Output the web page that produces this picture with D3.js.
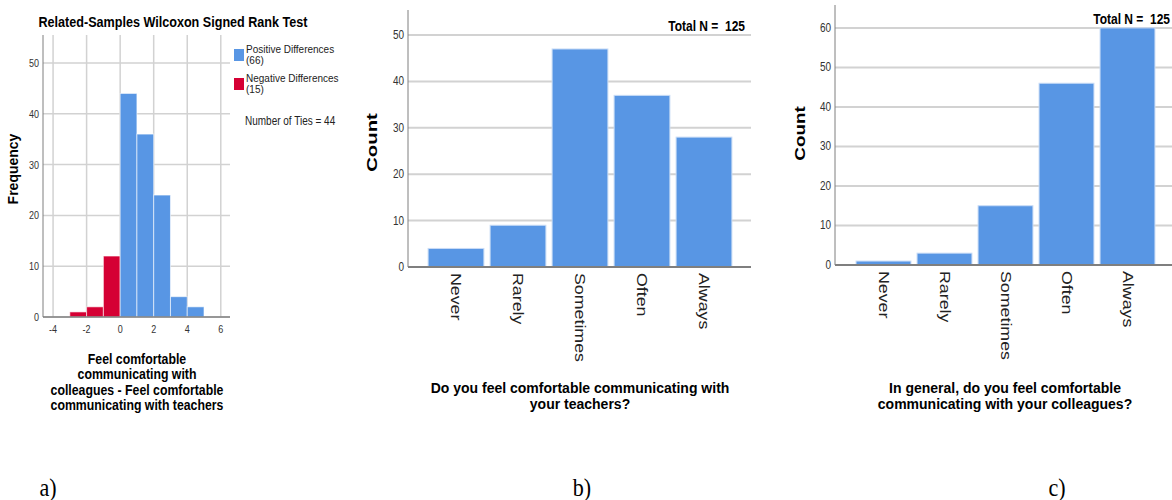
<!DOCTYPE html>
<html>
<head>
<meta charset="utf-8">
<script src="https://cdn.jsdelivr.net/npm/d3@7"></script>
<style>
  body { margin: 0; background: #fff; }
  svg { display: block; font-family: "Liberation Sans", Arial, sans-serif; }
  text { white-space: pre; }
</style>
</head>
<body>
<svg id="chart" width="1172" height="500"></svg>
<script>
// histogram of the differences (bin start, count)
var diffBins = [-3, -2, -1, 0, 1, 2, 3, 4];
var diffCounts = [1, 2, 12, 44, 36, 24, 4, 2];
var diffTicks = [-4, -2, 0, 2, 4, 6];
var freqTicks = [0, 10, 20, 30, 40, 50];

var categories = ["Never", "Rarely", "Sometimes", "Often", "Always"];
var teacherCounts = [4, 9, 47, 37, 28];
var colleagueCounts = [1, 3, 15, 46, 60];
var teacherTicks = [0, 10, 20, 30, 40, 50];
var colleagueTicks = [0, 10, 20, 30, 40, 50, 60];

var blue = "#5896e4", red = "#d50034";
var gridColor = "#d2d2d2", axisColor = "#7f7f7f";

var svg = d3.select("#chart");

// text helper, sx/sy stretch the glyphs like the original export
function txt(g, s, x, y, o) {
    o = o || {};
    var t = g.append("text")
        .attr("transform", "translate(" + x + "," + y + ")" + (o.rot ? " rotate(" + o.rot + ")" : "") +
            " scale(" + (o.sx || 1) + "," + (o.sy || 1) + ")")
        .attr("font-size", (o.size || 12) + "px")
        .attr("font-weight", o.bold ? "bold" : "normal")
        .attr("text-anchor", o.anchor || "middle")
        .attr("fill", o.fill || "#000")
        .text(s);
    return t;
}

function lines(g, arr, x, y0, step, o) {
    arr.forEach(function (s, i) { txt(g, s, x, y0 + i * step, o); });
}

// ---------- a) Wilcoxon histogram ----------
var ga = svg.append("g");
var xA = d3.scaleLinear().domain([-4.6, 6.55]).range([43, 230]);
var yA = d3.scaleLinear().domain([0, 55.5]).range([317, 35]);

ga.selectAll(".hg").data(freqTicks).enter().append("line")
    .attr("x1", 43).attr("x2", 230)
    .attr("y1", function (d) { return yA(d); }).attr("y2", function (d) { return yA(d); })
    .attr("stroke", gridColor).attr("stroke-width", 1.5);
ga.selectAll(".vg").data(diffTicks).enter().append("line")
    .attr("x1", function (d) { return xA(d); }).attr("x2", function (d) { return xA(d); })
    .attr("y1", 35).attr("y2", 317)
    .attr("stroke", gridColor).attr("stroke-width", 1.5);

ga.selectAll("rect").data(diffBins).enter().append("rect")
    .attr("x", function (d) { return xA(d); })
    .attr("width", function (d) { return xA(d + 1) - xA(d); })
    .attr("y", function (d, i) { return yA(diffCounts[i]); })
    .attr("height", function (d, i) { return yA(0) - yA(diffCounts[i]); })
    .attr("fill", function (d) { return d < 0 ? red : blue; })
    .attr("stroke", "#fff").attr("stroke-opacity", 0.6).attr("stroke-width", 1);

ga.append("line").attr("x1", 43).attr("x2", 43).attr("y1", 35).attr("y2", 317)
    .attr("stroke", axisColor);
ga.append("line").attr("x1", 43).attr("x2", 230).attr("y1", 317).attr("y2", 317)
    .attr("stroke", axisColor).attr("stroke-width", 1.5);

freqTicks.forEach(function (d) {
    txt(ga, d, 39, yA(d) + 4, { size: 9, anchor: "end", sy: 1.3, fill: "#333" });
});
diffTicks.forEach(function (d) {
    txt(ga, d, xA(d), 333, { size: 9, sy: 1.3, fill: "#333" });
});

txt(ga, "Related-Samples Wilcoxon Signed Rank Test", 173, 27, { size: 12.6, bold: true, sy: 1.1 });
txt(ga, "Frequency", 18, 169, { size: 14, bold: true, rot: -90 });
lines(ga, ["Feel comfortable", "communicating with", "colleagues - Feel comfortable", "communicating with teachers"],
    137, 364, 15.4, { size: 12.3, bold: true, sy: 1.15 });

// legend
var legend = [{ c: blue, l: ["Positive Differences", "(66)"], y: 49 }, { c: red, l: ["Negative Differences", "(15)"], y: 78 }];
legend.forEach(function (d) {
    ga.append("rect").attr("x", 234).attr("y", d.y).attr("width", 10).attr("height", 12).attr("fill", d.c);
    lines(ga, d.l, 246, d.y + 4, 11, { size: 10, anchor: "start", sy: 1.12, fill: "#222" });
});
txt(ga, "Number of Ties = 44", 245, 125, { size: 10, anchor: "start", sy: 1.2, fill: "#222" });

// ---------- bar panels ----------
function barPanel(opt) {
    var g = svg.append("g");
    var x = d3.scaleBand().domain(categories).range(opt.xr).paddingInner(0.1).paddingOuter(0.05);
    var y = d3.scaleLinear().domain([0, opt.ymax]).range([opt.y0, opt.ytop]);

    g.selectAll(".grid").data(opt.ticks.slice(1)).enter().append("line")
        .attr("x1", opt.left).attr("x2", opt.right)
        .attr("y1", function (d) { return y(d); }).attr("y2", function (d) { return y(d); })
        .attr("stroke", gridColor).attr("stroke-width", 2);

    g.selectAll("rect").data(opt.values).enter().append("rect")
        .attr("x", function (d, i) { return x(categories[i]); })
        .attr("width", x.bandwidth())
        .attr("y", function (d) { return y(d); })
        .attr("height", function (d) { return y(0) - y(d); })
        .attr("fill", blue)
        .attr("stroke", "#c9dcf6").attr("stroke-width", 1);

    g.append("line").attr("x1", opt.left).attr("x2", opt.left).attr("y1", opt.ytop).attr("y2", opt.y0)
        .attr("stroke", axisColor);
    g.append("line").attr("x1", opt.left).attr("x2", opt.right).attr("y1", opt.y0).attr("y2", opt.y0)
        .attr("stroke", axisColor).attr("stroke-width", 2);

    opt.ticks.forEach(function (d) {
        txt(g, d, opt.left - 4, y(d) + 4, { size: 10, anchor: "end", sy: 1.3, fill: "#333" });
    });
    categories.forEach(function (c) {
        txt(g, c, x(c) + x.bandwidth() / 2 - 5, opt.y0 + 6, { size: 14, anchor: "start", rot: 90, sx: 1.27, fill: "#222" });
    });

    txt(g, "Count", opt.countX, opt.countY, { size: 14.5, bold: true, rot: -90, sx: opt.countSx });
    txt(g, "Total N =  125", opt.totalX, opt.totalY, { size: 12, bold: true, anchor: "end", sy: 1.25 });
    lines(g, opt.title, opt.titleX, 393, 16, { size: 14, bold: true });
}

barPanel({
    xr: [425, 735], left: 408, right: 751, y0: 267, ytop: 10, ymax: 55.4,
    values: teacherCounts, ticks: teacherTicks,
    countX: 377, countY: 142.5, countSx: 1.4,
    totalX: 745, totalY: 31,
    title: ["Do you feel comfortable communicating with", "your teachers?"], titleX: 580
});

barPanel({
    xr: [853, 1158], left: 835, right: 1172, y0: 265, ytop: 5, ymax: 65.8,
    values: colleagueCounts, ticks: colleagueTicks,
    countX: 805, countY: 133.5, countSx: 1.3,
    totalX: 1170, totalY: 24,
    title: ["In general, do you feel comfortable", "communicating with your colleagues?"], titleX: 1005
});

// panel letters
var panelLetters = [["a)", 48], ["b)", 582], ["c)", 1057]];
panelLetters.forEach(function (d) {
    txt(svg, d[0], d[1], 496, { size: 26, sx: 0.85, fill: "#000" }).attr("font-family", "Liberation Serif, Times New Roman, serif");
});
</script>
</body>
</html>
